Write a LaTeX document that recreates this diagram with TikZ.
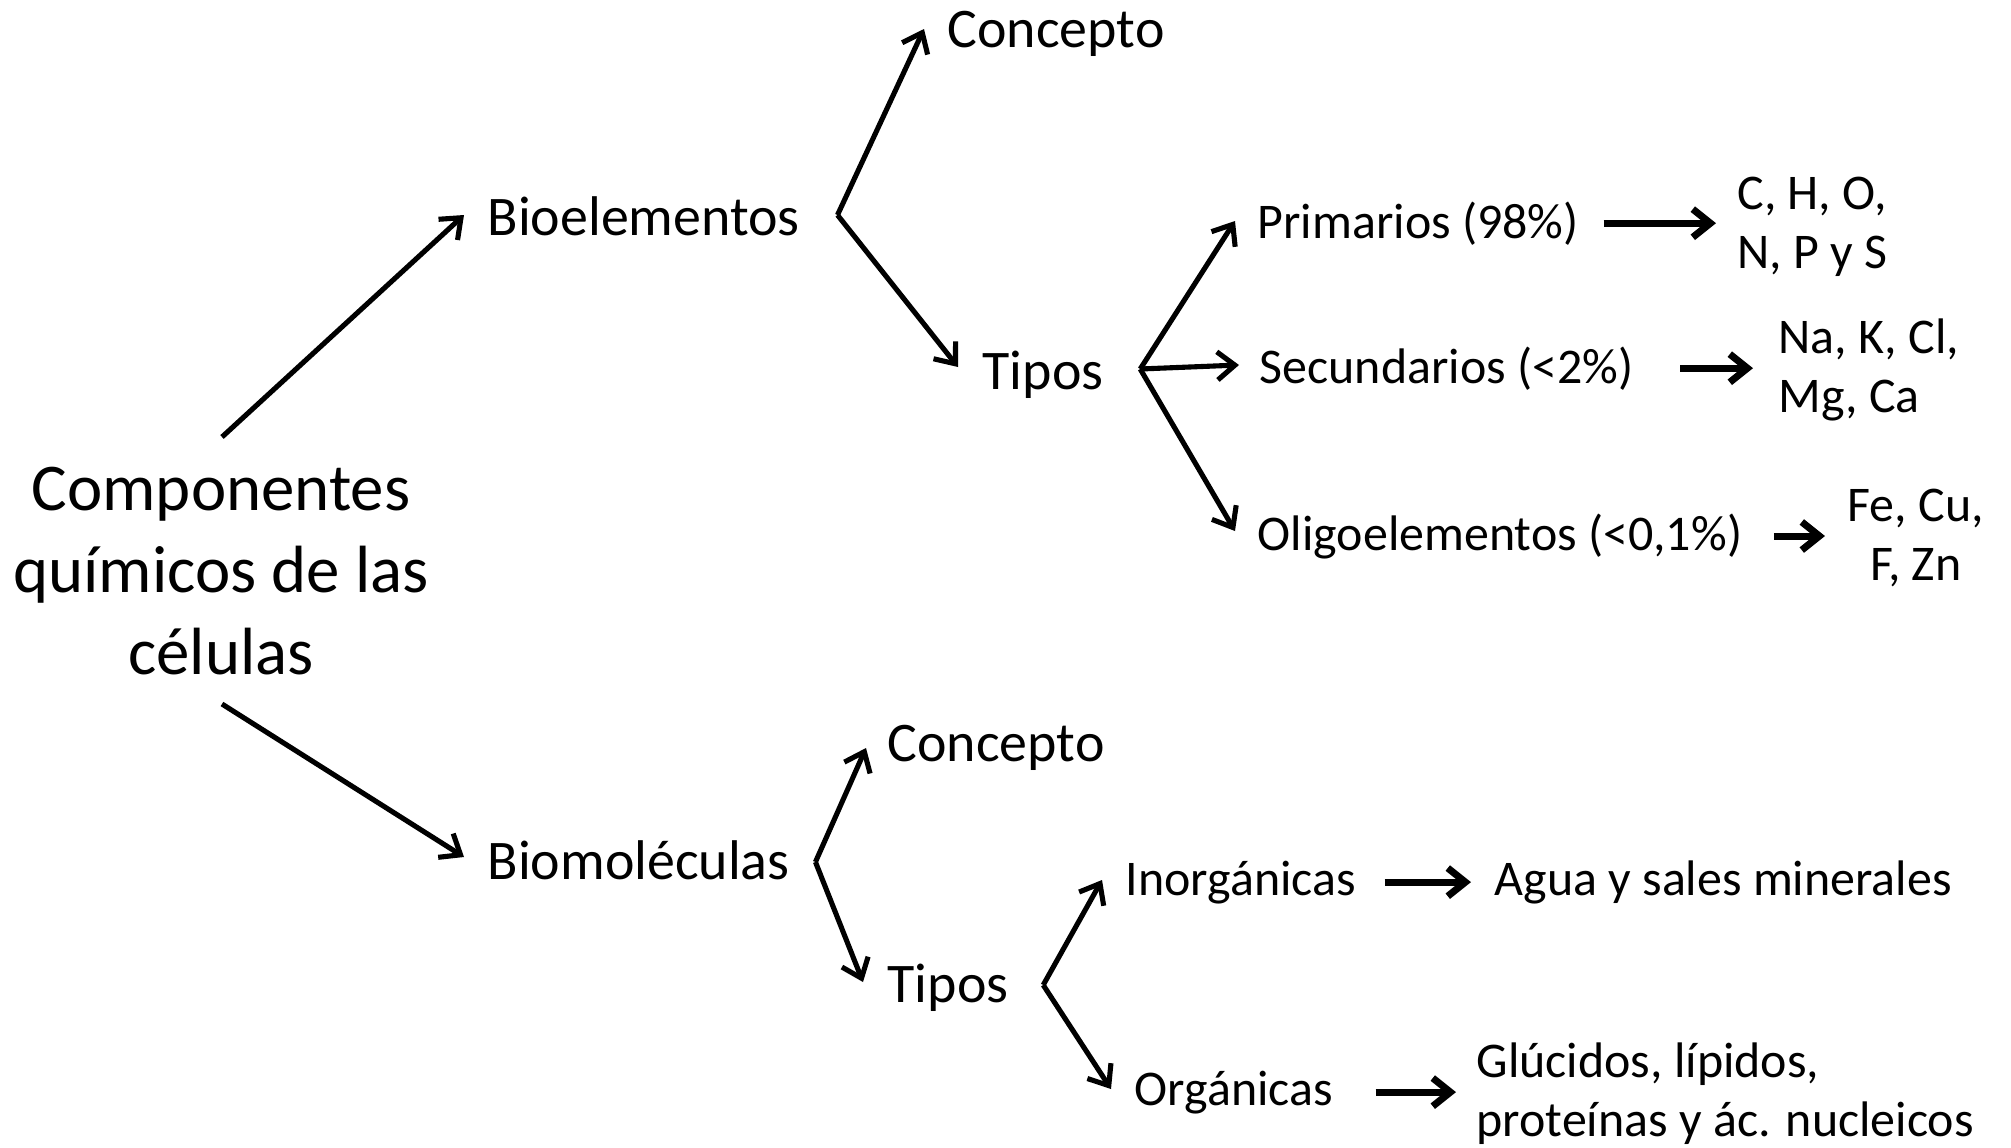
\documentclass[tikz,border=0pt]{standalone}
\usepackage{fontspec}
\setmainfont{Carlito}
\usetikzlibrary{arrows.meta}
\newdimen\px \px=0.01cm

\begin{document}
\begin{tikzpicture}
[x=0.01cm,y=-0.01cm,
 every node/.style={inner sep=0pt,anchor=base west},
 big/.style={font=\fontsize{19}{23.2}\selectfont,align=center,anchor=center},
 mid/.style={font=\fontsize{15.9}{19}\selectfont},
 small/.style={font=\fontsize{14.2}{16.8}\selectfont},
 twoline/.style={small,align=left,anchor=west},
 arr/.style={-{Straight Barb[length=5pt,width=8pt]},line width=1.45pt},
 harr/.style={arr,line width=2pt}]
\useasboundingbox (0,0) rectangle (2011,1148);
\node[big] (comp) at (221,571) {Componentes\\químicos de las\\células};
\node[mid] (bioel) at (487,235) {Bioelementos};
\node[mid] (conc1) at (947,47) {Concepto};
\node[mid] (tipos1) at (982,389) {Tipos};
\node[small] (prim) at (1257,238) {Primarios (98\%)};
\node[small] (secu) at (1259,383) {Secundarios (<2\%)};
\node[small] (oligo) at (1257,550) {Oligoelementos (<0,1\%)};
\node[twoline] (chons) at (1737,227) {C, H, O,\\N, P y S};
\node[twoline] (nak) at (1778,370) {Na, K, Cl,\\Mg, Ca};
\node[twoline,align=center] (fecu) at (1847,538) {Fe, Cu,\\F, Zn};
\node[mid] (biomol) at (487,879) {Biomoléculas};
\node[mid] (conc2) at (887,761) {Concepto};
\node[mid] (tipos2) at (887,1002) {Tipos};
\node[small] (inorg) at (1125,895) {Inorgánicas};
\node[small] (org) at (1134,1105) {Orgánicas};
\node[small] (agua) at (1494,895) {Agua y sales minerales};
\node[twoline] (gluc) at (1476,1094) {Glúcidos, lípidos,\\proteínas y ác. nucleicos};
% fork points
\coordinate (v1) at ([shift={(37,-20)}]bioel.base east);
\coordinate (v2) at ([shift={(36,-20)}]tipos1.base east);
\coordinate (v3) at ([shift={(25,-17)}]biomol.base east);
\coordinate (v4) at ([shift={(34,-17)}]tipos2.base east);
\draw[arr] ([shift={(1,-134)}]comp.center) -- ([shift={(-23,-20)}]bioel.base west);
\draw[arr] ([shift={(1,133)}]comp.center) -- ([shift={(-23,-22)}]biomol.base west);
\foreach \v/\n/\dx/\dy in {v1/conc1/-23/-18,v1/tipos1/-24/-22,v2/prim/-22/-17,v2/secu/-20/-18,v2/oligo/-22/-19,v3/conc2/-21/-13,v3/tipos2/-24/-20,v4/inorg/-23/-15,v4/org/-23/-16}
\draw[arr] (\v) -- ([shift={(\dx,\dy)}]\n.base west);
\foreach \a/\b/\s/\e in {prim/chons/24/21,secu/nak/46/25,oligo/fecu/31/22,inorg/agua/28/23,org/gluc/42/20}
\draw[harr,shorten <=\s\px,shorten >=\e\px] (\a.east) -- (\a.east -| \b.west);
\end{tikzpicture}
\end{document}
